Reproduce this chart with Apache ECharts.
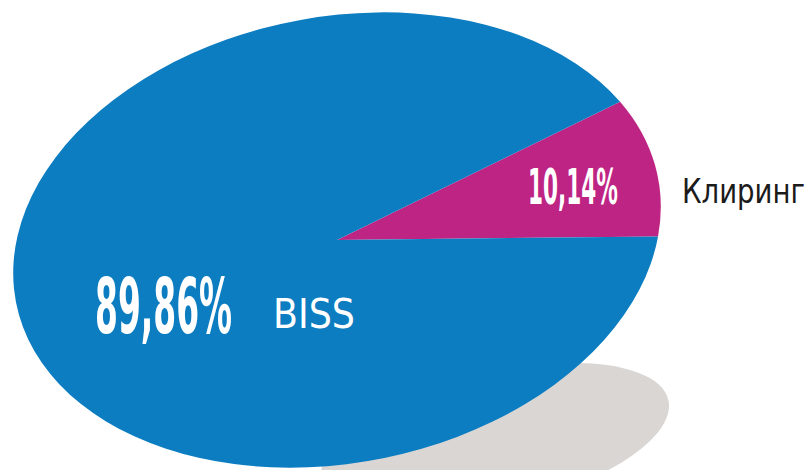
<!DOCTYPE html>
<html>
<head>
<meta charset="utf-8">
<script src="https://cdn.jsdelivr.net/npm/echarts@6/dist/echarts.min.js"></script>
<style>
  html, body { margin: 0; padding: 0; background: #ffffff; }
  #wrap { position: relative; width: 809px; height: 470px; overflow: hidden; background: #ffffff; }
  #shadow, #labels { position: absolute; left: 0; top: 0; width: 809px; height: 470px; }
  #pie { position: absolute; left: -13px; top: -110px; width: 700px; height: 700px;
         transform-origin: 50% 50%; transform: rotate(-11deg) scaleY(0.682); }
</style>
</head>
<body>
<div id="wrap">
  <div id="shadow"></div>
  <div id="pie"></div>
  <div id="labels"></div>
</div>
<script>
// ---- data ----
const categories = ['Клиринг', 'BISS'];
const shares = [10.14, 89.86];

// ---- styles ----
const sliceColors = ['#be2483', '#0c7dc1'];

function pct(v) { return v.toFixed(2).replace('.', ',') + '%'; }

// shadow layer
const shadowChart = echarts.init(document.getElementById('shadow'), null, { renderer: 'svg' });
shadowChart.setOption({
  animation: false,
  graphic: [{
    type: 'circle', x: 495, y: 440, rotation: 13 * Math.PI / 180, scaleX: 1, scaleY: 0.38,
    shape: { cx: 0, cy: 0, r: 178 }, style: { fill: '#dad6d4' }, silent: true
  }]
});

// pie layer (ellipse via CSS transform of the container)
const pieChart = echarts.init(document.getElementById('pie'), null, { renderer: 'svg' });
pieChart.setOption({
  animation: false,
  series: [{
    type: 'pie',
    center: ['50%', '50%'],
    radius: 327,
    startAngle: 21.5,
    clockwise: true,
    silent: true,
    label: { show: false },
    labelLine: { show: false },
    emphasis: { disabled: true },
    itemStyle: { borderWidth: 0 },
    data: categories.map((c, i) => ({ name: c, value: shares[i], itemStyle: { color: sliceColors[i] } }))
  }]
});

// label layer
const mctx = document.createElement('canvas').getContext('2d');
function fitText(txt, font, left, midY, width, color, extra) {
  mctx.font = font;
  const w = mctx.measureText(txt).width;
  return {
    type: 'text', x: left, y: midY, scaleX: width / w, silent: true,
    style: Object.assign({
      text: txt, font: font, fill: color,
      align: 'left', verticalAlign: 'middle', textAlign: 'left', textVerticalAlign: 'middle'
    }, extra || {})
  };
}
const condFont = '"Liberation Sans Narrow", "DejaVu Sans Condensed", "DejaVu Sans"';
const labelChart = echarts.init(document.getElementById('labels'), null, { renderer: 'svg' });
labelChart.setOption({
  animation: false,
  graphic: [
    fitText(pct(shares[1]), 'bold 76px ' + condFont, 95, 307, 137, '#ffffff'),
    fitText(categories[1], '40px "DejaVu Sans"', 273, 314, 82, '#ffffff'),
    fitText(pct(shares[0]), 'bold 50px ' + condFont, 528, 187, 90, '#ffffff'),
    fitText(categories[0], '34px "DejaVu Sans"', 682, 191, 123, '#1b1b1b')
  ]
});
</script>
</body>
</html>
